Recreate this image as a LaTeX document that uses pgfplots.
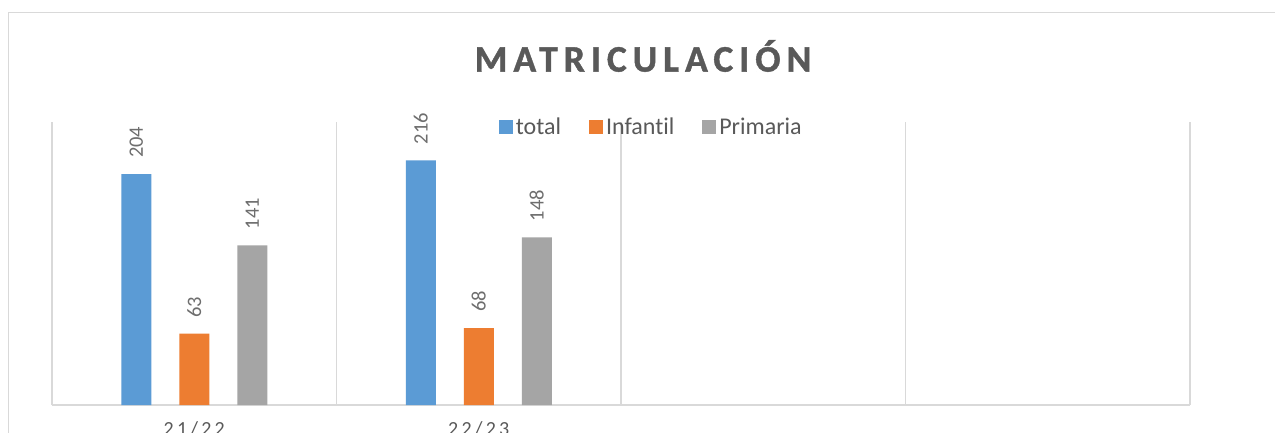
\documentclass[border=0pt]{standalone}
\usepackage{pgfplots}
\pgfplotsset{compat=1.18}
\usepackage{fontspec}
\setmainfont{Carlito}[Ligatures={NoCommon,NoRare}]
\newfontfamily\titlefont[LetterSpace=16, FakeBold=1.2]{Carlito Bold}
\newfontfamily\tickfont[LetterSpace=16]{Carlito}
\definecolor{cblue}{RGB}{91,155,213}
\definecolor{corange}{RGB}{237,125,49}
\definecolor{cgray}{RGB}{165,165,165}
\definecolor{gridgray}{RGB}{217,217,217}
\definecolor{txtgray}{RGB}{89,89,89}
\definecolor{lblgray}{RGB}{110,110,110}
\begin{document}
\begin{tikzpicture}[x=1pt,y=1pt]
\useasboundingbox (0,0) rectangle (1275,432);
\clip (0,0) rectangle (1275,432);
\fill[white] (0,0) rectangle (1275,432);
\draw[gridgray, line width=1.5pt] (8.5,-20) -- (8.5,419.5) -- (1300,419.5);
\node[txtgray, font={\titlefont\fontsize{37.5}{40}\selectfont}] at (643,376) {MATRICULACIÓN};
\begin{axis}[
  at={(52pt,27pt)}, anchor=south west,
  scale only axis, width=1138pt, height=283pt,
  xmin=-0.5, xmax=3.5, ymin=0, ymax=250,
  axis y line=none,
  axis x line*=bottom,
  x axis line style={draw=gridgray, line width=1.5pt, -},
  xtick={0,1,2,3}, xticklabels={21/22,22/23,,},
  major tick length=0pt,
  xticklabel style={font={\tickfont\fontsize{20}{24}\selectfont}, text=txtgray, inner sep=0pt, yshift=-16pt},
  extra x ticks={-0.5,0.5,1.5,2.5,3.5},
  extra x tick labels={},
  extra x tick style={grid=major, major grid style={draw=gridgray, line width=1.5pt}},
  ybar=28pt, bar width=30pt,
  /pgf/number format/assume math mode=true,
  nodes near coords,
  every node near coord/.append style={font={\fontsize{20.5}{24}\selectfont}, text=lblgray, rotate=90, anchor=west, inner sep=0pt, xshift=16pt},
  legend columns=-1,
  legend style={at={(0.527,0.982)}, anchor=center, draw=none, fill=none,
    font={\fontsize{24}{26}\selectfont}, text=txtgray,
    /tikz/every even column/.append style={column sep=25pt},
    nodes={inner xsep=3pt, inner ysep=0pt}},
  legend image code/.code={\fill[#1, draw=none] (0pt,-7pt) rectangle (14pt,7pt);},
  clip=false,
]
\addplot[fill=cblue, draw=none] coordinates {(0,204) (1,216)};
\addplot[fill=corange, draw=none] coordinates {(0,63) (1,68)};
\addplot[fill=cgray, draw=none] coordinates {(0,141) (1,148)};
\legend{total,Infantil,Primaria}
\end{axis}
\end{tikzpicture}
\end{document}
